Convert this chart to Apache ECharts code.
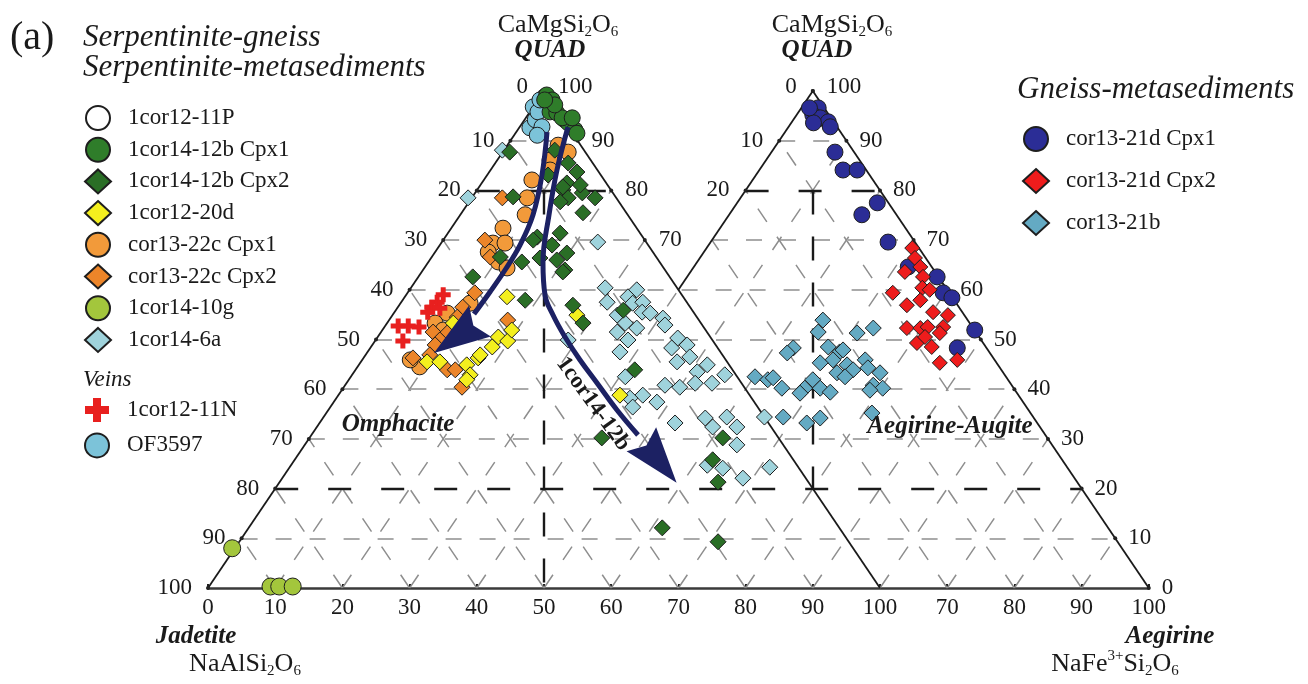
<!DOCTYPE html>
<html>
<head>
<meta charset="utf-8">
<script src="https://cdn.jsdelivr.net/npm/echarts@6/dist/echarts.min.js"></script>
<style>html,body{margin:0;padding:0;background:#fff}#c{width:1308px;height:684px}</style>
</head>
<body>
<div id="c"></div>
<script>
// Values: [position on the bottom scale (0–140), QUAD %]
const s_1cor12_11P = [[50.2, 98.8]];
const s_1cor14_12b_Cpx1 = [[50.4,99.2],[51.2,98.2],[50.9,95.8],[51.9,95.6],[53.1,94.2],[53.6,93.6],[54.6,92.2],[54.9,91.5],[52.7,94.6],[51.6,97.2],[50.1,98.2],[54.2,94.6]];
const s_1cor14_12b_Cpx2 = [[44.9,87.7],[53.6,85.5],[54.9,83.7],[53.4,81.5],[52.8,80.1],[55.7,79.5],[53.6,78.5],[52.4,77.7],[57.6,78.5],[55.8,75.5],[45.4,78.7],[49.0,70.6],[52.4,71.4],[51.2,69.0],[53.4,67.4],[43.5,66.6],[52.8,80.7],[55.4,81.1],[48.4,70.0],[49.4,66.4],[51.9,66.0],[53.1,64.0],[46.7,65.6],[39.4,62.6],[47.2,57.9],[52.8,63.6],[54.3,56.9],[55.8,53.3],[61.8,55.9],[63.5,43.9],[58.6,30.2],[76.6,30.2],[75.1,25.8],[75.9,21.3],[67.6,12.1],[75.9,9.3],[51.6,88.1],[50.6,83.1]];
const s_1cor12_20d = [[44.5,58.6],[36.5,53.3],[43.2,50.5],[44.6,49.7],[42.3,48.5],[32.6,45.5],[34.5,45.5],[38.5,44.9],[40.2,46.3],[39.0,42.9],[40.5,46.9],[38.5,41.9],[54.9,54.9],[61.3,38.8],[45.2,51.9]];
const s_cor13_22c_Cpx1 = [[52.1,89.1],[53.6,87.7],[50.9,86.1],[50.9,84.1],[48.2,82.1],[47.5,78.5],[47.2,75.1],[43.9,72.4],[42.4,69.4],[44.2,69.4],[41.7,67.6],[43.2,65.6],[44.5,64.4],[39.0,57.3],[35.6,55.3],[33.8,53.3],[35.0,51.9],[31.5,44.5],[30.1,45.9]];
const s_cor13_22c_Cpx2 = [[43.8,78.5],[42.0,66.6],[41.2,70.0],[39.7,59.4],[37.9,56.5],[37.1,54.5],[33.5,51.5],[35.6,51.3],[34.5,49.9],[30.5,46.3],[35.6,43.9],[37.8,40.4],[44.6,53.9],[33.8,48.9],[33.0,46.9],[36.8,43.9]];
const s_1cor14_10g = [[3.6,8.0],[9.3,0.3],[10.6,0.3],[12.6,0.3]];
const s_1cor14_6a = [[43.8,88.1],[38.7,78.5],[58.0,69.6],[59.1,60.4],[59.4,57.5],[62.5,58.6],[63.8,60.0],[63.2,57.3],[64.7,57.5],[64.6,55.5],[65.8,55.3],[67.7,54.3],[68.0,52.9],[60.9,54.9],[62.1,53.3],[63.8,52.3],[60.9,51.5],[62.5,49.9],[61.3,47.5],[53.6,49.9],[69.9,50.3],[69.0,48.3],[71.3,48.9],[71.7,46.5],[69.8,45.5],[74.3,44.9],[72.8,43.5],[72.5,41.2],[75.0,41.2],[76.9,42.9],[68.0,40.8],[70.2,40.4],[64.7,38.8],[66.8,37.4],[62.8,38.2],[63.2,36.4],[62.1,42.5],[69.5,33.2],[74.0,34.2],[77.2,34.4],[78.7,32.4],[75.1,32.4],[78.7,28.8],[74.3,24.7],[76.6,24.1],[79.6,22.1],[83.6,24.3],[82.8,34.4]];
const s_1cor12_11N = [[35.0,59.0],[34.1,57.5],[33.3,56.5],[34.5,56.3],[32.7,55.5],[28.3,52.7],[29.8,52.7],[31.4,52.5],[29.0,49.7]];
const s_OF3597 = [[48.4,96.8],[47.9,92.6],[48.7,94.2],[49.1,95.8],[49.7,92.8],[49.0,91.1],[49.4,98.2]];
const s_cor13_21d_Cpx1 = [[90.8,96.6],[90.0,95.2],[91.1,94.6],[92.3,93.8],[92.6,92.8],[90.1,93.6],[89.5,96.6],[93.3,87.7],[94.5,84.1],[96.6,84.1],[99.6,77.5],[97.3,75.1],[101.2,69.6],[104.2,64.6],[108.5,62.6],[109.4,59.4],[110.7,58.4],[114.1,51.9],[111.5,48.3]];
const s_cor13_21d_Cpx2 = [[104.8,68.4],[105.2,66.4],[106.0,64.6],[103.7,63.6],[106.4,62.6],[101.9,59.4],[106.3,60.4],[107.4,60.0],[104.0,56.9],[106.0,57.9],[107.9,55.5],[110.1,54.9],[104.0,52.3],[106.0,52.3],[107.1,52.5],[109.4,52.5],[105.5,49.3],[107.7,48.5],[108.9,45.3],[111.5,45.9],[106.7,50.5],[108.9,51.3]];
const s_cor13_21b = [[81.4,42.5],[83.3,41.9],[85.4,40.2],[84.1,42.3],[91.5,53.9],[90.8,51.5],[87.1,48.3],[86.2,47.3],[99.0,52.3],[96.6,51.3],[92.3,48.5],[94.0,47.5],[93.0,45.9],[91.1,45.3],[95.1,44.9],[96.0,43.9],[97.8,45.9],[98.2,44.3],[100.0,43.3],[99.0,40.8],[100.4,40.2],[93.6,43.3],[94.8,42.5],[90.0,41.9],[88.8,40.2],[91.1,40.2],[88.1,39.2],[92.6,39.4],[89.1,33.2],[91.1,34.2],[98.8,35.2],[85.6,34.4],[94.5,47.9],[98.5,39.8]];

// Trend arrows (1cor14-12b), read along the drawn paths
const arrowA = [[50.45,91.75],[49.70,83.10],[48.36,75.05],[46.43,69.01],[44.20,63.98],[41.96,59.56],[39.58,55.13]];
const arrowAHead = [37.05, 50.50];
const arrowB = [[53.57,92.76],[51.93,84.10],[50.74,75.05],[49.85,65.59],[50.15,58.95],[51.34,54.93],[53.13,50.50],[55.36,45.88],[57.89,41.25],[60.86,35.81],[63.99,30.78]];
const arrowBHead = [67.11, 25.55];

// Tick values
const gridSteps = [10,20,30,40,50,60,70,80,90];
const bottomTicks = [0,10,20,30,40,50,60,70,80,90,100,110,120,130,140];
const leftSideLabels = [0,10,20,30,40,50,60,70,80,90,100];      // 100 − QUAD, left triangle
const midSideLabels = [100,90,80,70];                            // QUAD, left triangle right side
const rightLeftLabels = [0,10,20];                               // 100 − QUAD, right triangle left side
const rightSideLabels = [100,90,80,70,60,50,40,30,20,10,0];     // QUAD, right triangle right side

const SERIF = '"Liberation Serif","Times New Roman",serif';

// ---------- structural lines ----------
const gray = [];
gridSteps.filter(q => q !== 20 && q !== 80).forEach(q => {
  if (q <= 60) gray.push([[q/2,q],[90+(100-q)/2,q]]);
  else { gray.push([[q/2,q],[50+(100-q)/2,q]]); gray.push([[90-(100-q)/2,q],[90+(100-q)/2,q]]); }
});
for (let c = 10; c <= 130; c += 10) { const qe = c <= 40 ? 100-c : 140-c; gray.push([[c,0],[c+qe/2,qe]]); }
gridSteps.forEach(d => gray.push([[d,0],[d/2,d]]));
[110,120,130].forEach(d => gray.push([[d,0],[d/2+20,d-40]]));

const blackH = [[[10,20],[130,20]], [[40,80],[60,80]], [[80,80],[100,80]]];
const blackV = [[[50,80],[50,0]], [[90,80],[90,20]]];
const edges = [[[0,0],[50,100]], [[50,100],[100,0]], [[90,100],[140,0]], [[90,100],[70,60]]];

// ---------- edge labels ----------
const lblStyle = {show:true, fontFamily:SERIF, fontSize:23, color:'#1a1a1a', opacity:1};
const edgeItems = [];
leftSideLabels.forEach(k => { const q = 100-k; edgeItems.push({value:[q/2,q], label:Object.assign({}, lblStyle, {position:'left', distance:14, formatter:String(k)})}); });
midSideLabels.forEach(q => edgeItems.push({value:[50+(100-q)/2,q], label:Object.assign({}, lblStyle, {position:'right', distance:12, formatter:String(q)})}));
rightLeftLabels.forEach(k => { const q = 100-k; edgeItems.push({value:[90-k/2,q], label:Object.assign({}, lblStyle, {position:'left', distance:14, formatter:String(k)})}); });
rightSideLabels.forEach(q => edgeItems.push({value:[90+(100-q)/2,q], label:Object.assign({}, lblStyle, {position:'right', distance:q===100?12:11, formatter:String(q)})}));
edgeItems.forEach(it => { if (it.value[1] === 100) it.label.offset = [0,-4]; });

const CROSS = 'path://M4,0H8V4H12V8H8V12H4V8H0V4H4Z';
function sc(name, data, symbol, color, size, z) {
  return {name, type:'scatter', data, symbol, symbolSize:size, z:z||5,
    itemStyle:{color, borderColor: symbol===CROSS ? color : '#1e1e1e', borderWidth: symbol===CROSS ? 0 : 1, opacity:1},
    emphasis:{disabled:true}};
}

const dataSeries = [
  sc('1cor12-11P', s_1cor12_11P, 'circle', '#ffffff', 16),
  sc('1cor14-6a', s_1cor14_6a, 'diamond', '#9fd3dc', 16),
  sc('cor13-21b', s_cor13_21b, 'diamond', '#64aac3', 16),
  sc('cor13-22c Cpx1', s_cor13_22c_Cpx1, 'circle', '#f29a3a', 16),
  sc('cor13-22c Cpx2', s_cor13_22c_Cpx2, 'diamond', '#ec8529', 16),
  sc('1cor12-20d', s_1cor12_20d, 'diamond', '#f4ef1e', 16),
  sc('1cor14-12b Cpx2', s_1cor14_12b_Cpx2, 'diamond', '#2a6e26', 16),
  sc('OF3597', s_OF3597, 'circle', '#7cc3d9', 16),
  sc('1cor14-12b Cpx1', s_1cor14_12b_Cpx1, 'circle', '#2f7d2a', 16),
  sc('1cor14-10g', s_1cor14_10g, 'circle', '#a3c63c', 17),
  sc('1cor12-11N', s_1cor12_11N, CROSS, '#e8201f', 15),
  sc('cor13-21d Cpx1', s_cor13_21d_Cpx1, 'circle', '#2b2d96', 16),
  sc('cor13-21d Cpx2', s_cor13_21d_Cpx2, 'diamond', '#ee1c1c', 15)
];
dataSeries.find(s => s.name === '1cor12-11P').itemStyle.borderWidth = 2;

const ARROW = '#1c2163';
const HEAD = 'path://M0,0L19,56L0,48L-19,56Z';

const legendText = {fontFamily:SERIF, fontSize:23, color:'#1a1a1a', lineHeight:24, padding:[0,0,0,12]};
const legendBase = {orient:'vertical', itemWidth:26, itemHeight:24, selectedMode:false, textStyle:legendText};

const formula = {
  m:{fontFamily:SERIF, fontSize:26, lineHeight:30, verticalAlign:'middle', fill:'#1a1a1a'},
  s:{fontFamily:SERIF, fontSize:15, lineHeight:14, verticalAlign:'bottom', fill:'#1a1a1a'},
  p:{fontFamily:SERIF, fontSize:15, lineHeight:14, verticalAlign:'top', fill:'#1a1a1a'}
};
function txt(x, y, text, font, align, extra) {
  return Object.assign({type:'text', x, y, z:100, style:{text, font, fill:'#1a1a1a', align:align||'left', verticalAlign:'middle'}}, extra||{});
}
function ftxt(x, y, text) {
  return {type:'text', x, y, z:100, style:{text, rich:formula, align:'center', verticalAlign:'middle', fill:'#1a1a1a'}};
}

const chart = echarts.init(document.getElementById('c'), null, {renderer:'canvas'});
chart.setOption({
  animation:false,
  backgroundColor:'#fff',
  grid:{left:208, top:91, width:940.8, height:497, containLabel:false},
  xAxis:{type:'value', min:0, max:140, interval:10,
    axisLine:{show:true, onZero:false, lineStyle:{color:'#3a3a3a', width:2.5}},
    axisTick:{show:true, inside:true, length:4, lineStyle:{color:'#222', width:2}},
    axisLabel:{fontFamily:SERIF, fontSize:23, color:'#1a1a1a', margin:8, showMinLabel:true, showMaxLabel:true,
      formatter: v => String(bottomTicks.indexOf(v) >= 0 && v > 100 ? v - 40 : v)},
    splitLine:{show:false}},
  yAxis:{type:'value', min:0, max:100, show:false, splitLine:{show:false}},
  legend:[
    Object.assign({}, legendBase, {left:79, top:100, itemGap:5.7,
      data:['1cor12-11P','1cor14-12b Cpx1','1cor14-12b Cpx2','1cor12-20d','cor13-22c Cpx1','cor13-22c Cpx2','1cor14-10g','1cor14-6a']}),
    Object.assign({}, legendBase, {left:79, top:393, itemGap:10.4, data:['1cor12-11N','OF3597']}),
    Object.assign({}, legendBase, {left:1017, top:121, itemGap:16, data:['cor13-21d Cpx1','cor13-21d Cpx2','cor13-21b']})
  ],
  series:[
    {type:'lines', coordinateSystem:'cartesian2d', z:1, silent:true,
      data: gray.map(c => ({coords:c})), lineStyle:{color:'#8e8e8e', width:1.5, type:[16,18], opacity:1}},
    {type:'lines', coordinateSystem:'cartesian2d', z:2, silent:true,
      data: blackH.map(c => ({coords:c})), lineStyle:{color:'#1a1a1a', width:2.4, type:[23,30], opacity:1}},
    {type:'lines', coordinateSystem:'cartesian2d', z:2, silent:true,
      data: blackV.map(c => ({coords:c})), lineStyle:{color:'#1a1a1a', width:2.4, type:[24,22], opacity:1}},
    {type:'lines', coordinateSystem:'cartesian2d', z:3, silent:true,
      data: edges.map(c => ({coords:c})), lineStyle:{color:'#1a1a1a', width:1.8, type:'solid', opacity:1}},
    {type:'scatter', z:3, silent:true, symbol:'circle', symbolSize:4, itemStyle:{color:'#222', opacity:1}, data:edgeItems},
    ...dataSeries,
    {type:'line', data:arrowA, smooth:0.4, showSymbol:false, z:8, silent:true, lineStyle:{color:ARROW, width:5, opacity:1}},
    {type:'line', data:arrowB, smooth:0.4, showSymbol:false, z:8, silent:true, lineStyle:{color:ARROW, width:5, opacity:1}},
    {type:'scatter', z:9, silent:true, symbol:HEAD, symbolSize:[38,56], itemStyle:{color:ARROW, opacity:1},
      data:[{value:arrowAHead, symbolRotate:125}, {value:arrowBHead, symbolRotate:-141}]}
  ],
  graphic:[
    txt(10, 38, '(a)', '40px ' + SERIF),
    txt(83, 38, 'Serpentinite-gneiss', 'italic 31px ' + SERIF),
    txt(83, 68, 'Serpentinite-metasediments', 'italic 31px ' + SERIF),
    txt(1017, 90, 'Gneiss-metasediments', 'italic 31px ' + SERIF),
    txt(83, 380, 'Veins', 'italic 23px ' + SERIF),
    ftxt(558, 25, '{m|CaMgSi}{s|2}{m|O}{s|6}'),
    ftxt(832, 25, '{m|CaMgSi}{s|2}{m|O}{s|6}'),
    txt(550, 51, 'QUAD', 'italic bold 25px ' + SERIF, 'center'),
    txt(817, 51, 'QUAD', 'italic bold 25px ' + SERIF, 'center'),
    txt(196, 637, 'Jadetite', 'italic bold 25px ' + SERIF, 'center'),
    ftxt(245, 664, '{m|NaAlSi}{s|2}{m|O}{s|6}'),
    txt(1170, 637, 'Aegirine', 'italic bold 25px ' + SERIF, 'center'),
    ftxt(1115, 664, '{m|NaFe}{p|3+}{m|Si}{s|2}{m|O}{s|6}'),
    txt(398, 425, 'Omphacite', 'italic bold 25px ' + SERIF, 'center'),
    txt(950, 427, 'Aegirine-Augite', 'italic bold 25px ' + SERIF, 'center'),
    txt(593, 404, '1cor14-12b', 'bold 23px ' + SERIF, 'center', {rotation: -54 * Math.PI / 180})
  ]
});
</script>
</body>
</html>
